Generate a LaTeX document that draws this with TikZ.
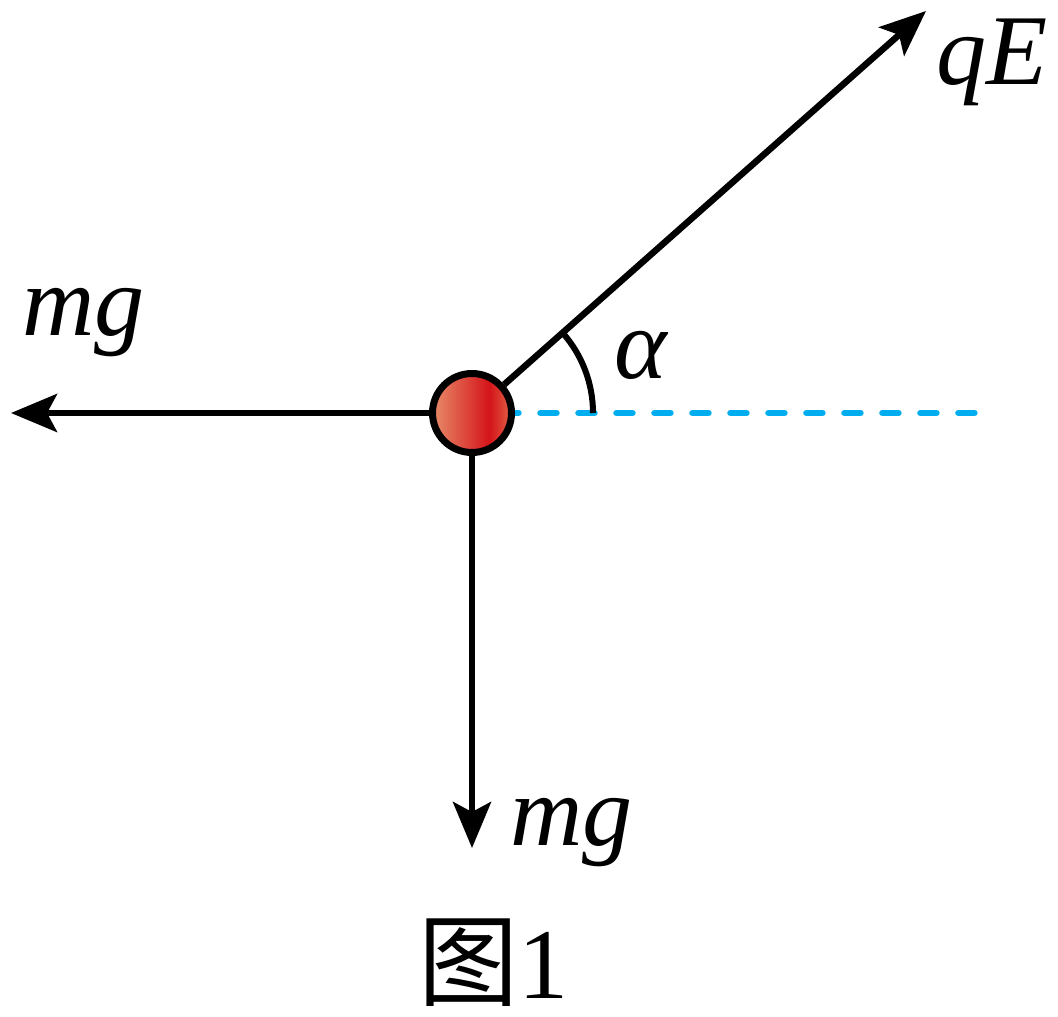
\documentclass[tikz,border=0pt]{standalone}
\usepackage{fontspec}
\setmainfont{Liberation Serif}
\newfontfamily\cjk{Noto Sans CJK SC}
\newfontfamily\tnr{Liberation Serif}
\usetikzlibrary{arrows.meta}
\definecolor{ballL}{RGB}{232,140,105}
\definecolor{ballM}{RGB}{212,20,26}
\definecolor{ballR}{RGB}{226,98,70}
\definecolor{dashblue}{RGB}{0,174,239}
\pgfdeclarehorizontalshading{ballshade}{100bp}{color(0bp)=(ballL); color(25bp)=(ballL); color(61bp)=(ballM); color(75bp)=(ballR); color(100bp)=(ballR)}
\tikzset{
  force/.style={line width=0.13cm, -{Stealth[length=0.92cm,width=0.76cm,inset=0.2cm]}},
  dashline/.style={line width=0.13cm, dashblue, line cap=round, dash pattern=on 0.32cm off 0.44cm, dash phase=0.15cm},
  anglearc/.style={line width=0.12cm},
  ballstyle/.style={circle, draw, line width=0.14cm, shading=ballshade, minimum size=1.58cm, inner sep=0pt},
  lbl/.style={inner sep=0pt, font=\fontsize{57}{66}\selectfont\tnr\itshape},
  figlabel/.style={inner sep=0pt, font=\fontsize{57}{66}\selectfont}
}
\begin{document}
\begin{tikzpicture}[x=0.02cm,y=0.02cm]
\useasboundingbox (0,-1017) rectangle (1058,0);
\coordinate (O) at (472,-413);
\coordinate (tipL) at (11,-413);
\coordinate (tipD) at (472,-848);
\coordinate (tipQ) at (926,-11);
\coordinate (dashEnd) at (975,-413);
\draw[dashline] (O) -- (dashEnd);
\node[ballstyle] (ball) at (O) {};
\draw[force] (ball) -- (tipL);
\draw[force] (ball) -- (tipD);
\draw[force] (ball) -- (tipQ);
\draw[anglearc] (ball.center) ++(121,0) arc[start angle=0, end angle=41.5, radius=121];
\node[lbl, anchor=base west] (qE) at (936,-85) {qE};
\node[lbl, anchor=base west] (mgL) at (22,-335) {mg};
\node[lbl, anchor=base west] (mgD) at (510,-845) {mg};
\node[lbl, anchor=base west] (alpha) at (614,-378) {α};
\node[figlabel, anchor=base west] (fig) at (418,-998) {{\cjk 图}{\tnr 1}};
\end{tikzpicture}
\end{document}
